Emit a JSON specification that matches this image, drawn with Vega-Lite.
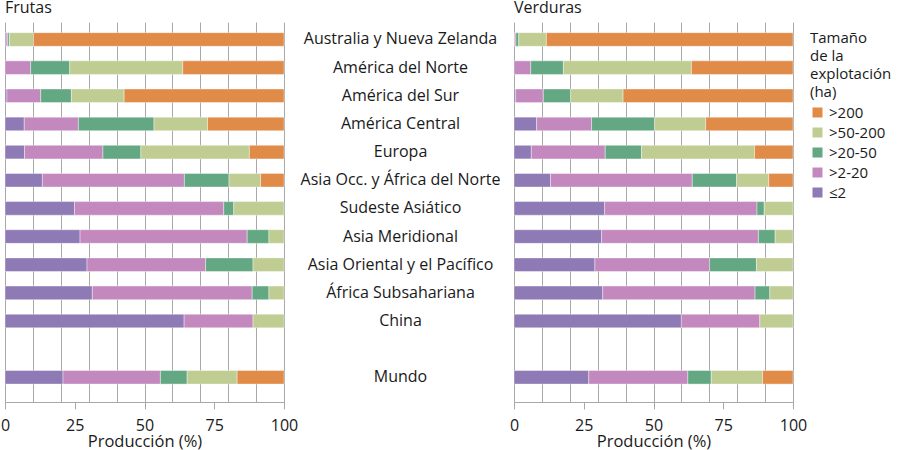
{
  "$schema": "https://vega.github.io/schema/vega-lite/v6.json",
  "padding": {"left": 0, "top": 0, "right": 0, "bottom": 0},
  "background": "white",
  "config": {
    "font": "Open Sans",
    "view": {"stroke": null},
    "title": {"fontSize": 16, "fontWeight": "normal", "anchor": "start", "frame": "group", "color": "#1a1a1a", "baseline": "alphabetic", "offset": 6},
    "axis": {"labelColor": "#1a1a1a", "titleColor": "#1a1a1a", "titleFontWeight": "normal"}
  },
  "data": {"values": [
    {"producto": "Frutas", "region": "Australia y Nueva Zelanda", "tamaño": "≤2", "valor": 0.4},
    {"producto": "Frutas", "region": "Australia y Nueva Zelanda", "tamaño": ">2-20", "valor": 0.6},
    {"producto": "Frutas", "region": "Australia y Nueva Zelanda", "tamaño": ">20-50", "valor": 0.6},
    {"producto": "Frutas", "region": "Australia y Nueva Zelanda", "tamaño": ">50-200", "valor": 8.6},
    {"producto": "Frutas", "region": "Australia y Nueva Zelanda", "tamaño": ">200", "valor": 89.8},
    {"producto": "Frutas", "region": "América del Norte", "tamaño": ">2-20", "valor": 9.2},
    {"producto": "Frutas", "region": "América del Norte", "tamaño": ">20-50", "valor": 14.0},
    {"producto": "Frutas", "region": "América del Norte", "tamaño": ">50-200", "valor": 40.5},
    {"producto": "Frutas", "region": "América del Norte", "tamaño": ">200", "valor": 36.3},
    {"producto": "Frutas", "region": "América del Sur", "tamaño": "≤2", "valor": 0.7},
    {"producto": "Frutas", "region": "América del Sur", "tamaño": ">2-20", "valor": 12.1},
    {"producto": "Frutas", "region": "América del Sur", "tamaño": ">20-50", "valor": 11.0},
    {"producto": "Frutas", "region": "América del Sur", "tamaño": ">50-200", "valor": 18.9},
    {"producto": "Frutas", "region": "América del Sur", "tamaño": ">200", "valor": 57.3},
    {"producto": "Frutas", "region": "América Central", "tamaño": "≤2", "valor": 6.9},
    {"producto": "Frutas", "region": "América Central", "tamaño": ">2-20", "valor": 19.4},
    {"producto": "Frutas", "region": "América Central", "tamaño": ">20-50", "valor": 27.1},
    {"producto": "Frutas", "region": "América Central", "tamaño": ">50-200", "valor": 19.2},
    {"producto": "Frutas", "region": "América Central", "tamaño": ">200", "valor": 27.4},
    {"producto": "Frutas", "region": "Europa", "tamaño": "≤2", "valor": 7.0},
    {"producto": "Frutas", "region": "Europa", "tamaño": ">2-20", "valor": 28.1},
    {"producto": "Frutas", "region": "Europa", "tamaño": ">20-50", "valor": 13.6},
    {"producto": "Frutas", "region": "Europa", "tamaño": ">50-200", "valor": 38.9},
    {"producto": "Frutas", "region": "Europa", "tamaño": ">200", "valor": 12.4},
    {"producto": "Frutas", "region": "Asia Occ. y África del Norte", "tamaño": "≤2", "valor": 13.4},
    {"producto": "Frutas", "region": "Asia Occ. y África del Norte", "tamaño": ">2-20", "valor": 50.9},
    {"producto": "Frutas", "region": "Asia Occ. y África del Norte", "tamaño": ">20-50", "valor": 16.0},
    {"producto": "Frutas", "region": "Asia Occ. y África del Norte", "tamaño": ">50-200", "valor": 11.3},
    {"producto": "Frutas", "region": "Asia Occ. y África del Norte", "tamaño": ">200", "valor": 8.4},
    {"producto": "Frutas", "region": "Sudeste Asiático", "tamaño": "≤2", "valor": 24.9},
    {"producto": "Frutas", "region": "Sudeste Asiático", "tamaño": ">2-20", "valor": 53.5},
    {"producto": "Frutas", "region": "Sudeste Asiático", "tamaño": ">20-50", "valor": 3.6},
    {"producto": "Frutas", "region": "Sudeste Asiático", "tamaño": ">50-200", "valor": 18.0},
    {"producto": "Frutas", "region": "Asia Meridional", "tamaño": "≤2", "valor": 26.9},
    {"producto": "Frutas", "region": "Asia Meridional", "tamaño": ">2-20", "valor": 59.9},
    {"producto": "Frutas", "region": "Asia Meridional", "tamaño": ">20-50", "valor": 7.8},
    {"producto": "Frutas", "region": "Asia Meridional", "tamaño": ">50-200", "valor": 5.4},
    {"producto": "Frutas", "region": "Asia Oriental y el Pacífico", "tamaño": "≤2", "valor": 29.4},
    {"producto": "Frutas", "region": "Asia Oriental y el Pacífico", "tamaño": ">2-20", "valor": 42.5},
    {"producto": "Frutas", "region": "Asia Oriental y el Pacífico", "tamaño": ">20-50", "valor": 17.0},
    {"producto": "Frutas", "region": "Asia Oriental y el Pacífico", "tamaño": ">50-200", "valor": 11.1},
    {"producto": "Frutas", "region": "África Subsahariana", "tamaño": "≤2", "valor": 31.3},
    {"producto": "Frutas", "region": "África Subsahariana", "tamaño": ">2-20", "valor": 57.3},
    {"producto": "Frutas", "region": "África Subsahariana", "tamaño": ">20-50", "valor": 6.0},
    {"producto": "Frutas", "region": "África Subsahariana", "tamaño": ">50-200", "valor": 5.4},
    {"producto": "Frutas", "region": "China", "tamaño": "≤2", "valor": 64.2},
    {"producto": "Frutas", "region": "China", "tamaño": ">2-20", "valor": 24.7},
    {"producto": "Frutas", "region": "China", "tamaño": ">50-200", "valor": 11.1},
    {"producto": "Frutas", "region": "Mundo", "tamaño": "≤2", "valor": 20.8},
    {"producto": "Frutas", "region": "Mundo", "tamaño": ">2-20", "valor": 34.9},
    {"producto": "Frutas", "region": "Mundo", "tamaño": ">20-50", "valor": 9.6},
    {"producto": "Frutas", "region": "Mundo", "tamaño": ">50-200", "valor": 17.9},
    {"producto": "Frutas", "region": "Mundo", "tamaño": ">200", "valor": 16.8},
    {"producto": "Verduras", "region": "Australia y Nueva Zelanda", "tamaño": "≤2", "valor": 0.2},
    {"producto": "Verduras", "region": "Australia y Nueva Zelanda", "tamaño": ">2-20", "valor": 0.5},
    {"producto": "Verduras", "region": "Australia y Nueva Zelanda", "tamaño": ">20-50", "valor": 1.0},
    {"producto": "Verduras", "region": "Australia y Nueva Zelanda", "tamaño": ">50-200", "valor": 9.9},
    {"producto": "Verduras", "region": "Australia y Nueva Zelanda", "tamaño": ">200", "valor": 88.4},
    {"producto": "Verduras", "region": "América del Norte", "tamaño": ">2-20", "valor": 6.0},
    {"producto": "Verduras", "region": "América del Norte", "tamaño": ">20-50", "valor": 11.7},
    {"producto": "Verduras", "region": "América del Norte", "tamaño": ">50-200", "valor": 45.9},
    {"producto": "Verduras", "region": "América del Norte", "tamaño": ">200", "valor": 36.4},
    {"producto": "Verduras", "region": "América del Sur", "tamaño": "≤2", "valor": 0.6},
    {"producto": "Verduras", "region": "América del Sur", "tamaño": ">2-20", "valor": 9.9},
    {"producto": "Verduras", "region": "América del Sur", "tamaño": ">20-50", "valor": 9.8},
    {"producto": "Verduras", "region": "América del Sur", "tamaño": ">50-200", "valor": 18.8},
    {"producto": "Verduras", "region": "América del Sur", "tamaño": ">200", "valor": 60.9},
    {"producto": "Verduras", "region": "América Central", "tamaño": "≤2", "valor": 8.1},
    {"producto": "Verduras", "region": "América Central", "tamaño": ">2-20", "valor": 19.7},
    {"producto": "Verduras", "region": "América Central", "tamaño": ">20-50", "valor": 22.6},
    {"producto": "Verduras", "region": "América Central", "tamaño": ">50-200", "valor": 18.3},
    {"producto": "Verduras", "region": "América Central", "tamaño": ">200", "valor": 31.3},
    {"producto": "Verduras", "region": "Europa", "tamaño": "≤2", "valor": 6.2},
    {"producto": "Verduras", "region": "Europa", "tamaño": ">2-20", "valor": 26.5},
    {"producto": "Verduras", "region": "Europa", "tamaño": ">20-50", "valor": 13.0},
    {"producto": "Verduras", "region": "Europa", "tamaño": ">50-200", "valor": 40.5},
    {"producto": "Verduras", "region": "Europa", "tamaño": ">200", "valor": 13.8},
    {"producto": "Verduras", "region": "Asia Occ. y África del Norte", "tamaño": "≤2", "valor": 13.1},
    {"producto": "Verduras", "region": "Asia Occ. y África del Norte", "tamaño": ">2-20", "valor": 50.8},
    {"producto": "Verduras", "region": "Asia Occ. y África del Norte", "tamaño": ">20-50", "valor": 15.9},
    {"producto": "Verduras", "region": "Asia Occ. y África del Norte", "tamaño": ">50-200", "valor": 11.5},
    {"producto": "Verduras", "region": "Asia Occ. y África del Norte", "tamaño": ">200", "valor": 8.7},
    {"producto": "Verduras", "region": "Sudeste Asiático", "tamaño": "≤2", "valor": 32.5},
    {"producto": "Verduras", "region": "Sudeste Asiático", "tamaño": ">2-20", "valor": 54.6},
    {"producto": "Verduras", "region": "Sudeste Asiático", "tamaño": ">20-50", "valor": 2.6},
    {"producto": "Verduras", "region": "Sudeste Asiático", "tamaño": ">50-200", "valor": 10.3},
    {"producto": "Verduras", "region": "Asia Meridional", "tamaño": "≤2", "valor": 31.4},
    {"producto": "Verduras", "region": "Asia Meridional", "tamaño": ">2-20", "valor": 56.2},
    {"producto": "Verduras", "region": "Asia Meridional", "tamaño": ">20-50", "valor": 6.0},
    {"producto": "Verduras", "region": "Asia Meridional", "tamaño": ">50-200", "valor": 6.4},
    {"producto": "Verduras", "region": "Asia Oriental y el Pacífico", "tamaño": "≤2", "valor": 29.0},
    {"producto": "Verduras", "region": "Asia Oriental y el Pacífico", "tamaño": ">2-20", "valor": 41.1},
    {"producto": "Verduras", "region": "Asia Oriental y el Pacífico", "tamaño": ">20-50", "valor": 16.8},
    {"producto": "Verduras", "region": "Asia Oriental y el Pacífico", "tamaño": ">50-200", "valor": 13.1},
    {"producto": "Verduras", "region": "África Subsahariana", "tamaño": "≤2", "valor": 31.8},
    {"producto": "Verduras", "region": "África Subsahariana", "tamaño": ">2-20", "valor": 54.6},
    {"producto": "Verduras", "region": "África Subsahariana", "tamaño": ">20-50", "valor": 5.3},
    {"producto": "Verduras", "region": "África Subsahariana", "tamaño": ">50-200", "valor": 8.3},
    {"producto": "Verduras", "region": "China", "tamaño": "≤2", "valor": 60.0},
    {"producto": "Verduras", "region": "China", "tamaño": ">2-20", "valor": 28.1},
    {"producto": "Verduras", "region": "China", "tamaño": ">50-200", "valor": 11.9},
    {"producto": "Verduras", "region": "Mundo", "tamaño": "≤2", "valor": 26.8},
    {"producto": "Verduras", "region": "Mundo", "tamaño": ">2-20", "valor": 35.5},
    {"producto": "Verduras", "region": "Mundo", "tamaño": ">20-50", "valor": 8.4},
    {"producto": "Verduras", "region": "Mundo", "tamaño": ">50-200", "valor": 18.4},
    {"producto": "Verduras", "region": "Mundo", "tamaño": ">200", "valor": 10.9}
  ]},
  "transform": [{"calculate": "indexof(['≤2','>2-20','>20-50','>50-200','>200'], datum['tamaño'])", "as": "orden"}],
  "spacing": 230,
  "bounds": "flush",
  "resolve": {"scale": {"color": "shared"}},
  "hconcat": [
    {
      "title": {"text": "Frutas"},
      "width": 279,
      "height": 380,
      "transform": [{"filter": "datum.producto === 'Frutas'"}],
      "mark": {"type": "bar", "stroke": "white", "strokeWidth": 0.4},
      "encoding": {
        "y": {
          "field": "region", "type": "nominal",
          "scale": {"domain": ["Australia y Nueva Zelanda", "América del Norte", "América del Sur", "América Central", "Europa", "Asia Occ. y África del Norte", "Sudeste Asiático", "Asia Meridional", "Asia Oriental y el Pacífico", "África Subsahariana", "China", " ", "Mundo"], "paddingInner": 0.517, "paddingOuter": 0.508, "align": 0.374},
          "axis": null
        },
        "x": {
          "field": "valor", "type": "quantitative", "stack": "zero",
          "scale": {"domain": [0, 100], "nice": false},
          "axis": {
            "title": "Producción (%)", "titleFontSize": 16.5, "labelFontSize": 16,
            "values": [0, 10, 20, 25, 30, 40, 50, 60, 70, 75, 80, 90, 100],
            "labelExpr": "datum.value % 25 === 0 ? datum.label : ''",
            "grid": true, "gridColor": "#a8a8a8", "gridWidth": 1,
            "gridOpacity": {"condition": {"test": "datum.value % 10 === 0", "value": 1}, "value": 0},
            "tickOpacity": {"condition": {"test": "datum.value % 25 === 0", "value": 1}, "value": 0},
            "tickColor": "#a8a8a8", "domainColor": "#a8a8a8", "tickSize": 7,
            "labelPadding": 8, "titlePadding": 0, "labelFlush": false
          }
        },
        "order": {"field": "orden", "type": "quantitative", "sort": "ascending"},
        "color": {
          "field": "tamaño", "type": "nominal",
          "scale": {"domain": ["≤2", ">2-20", ">20-50", ">50-200", ">200"], "range": ["#8e7ab5", "#c388be", "#63a882", "#bfcc92", "#e08b47"]},
          "legend": {
            "title": ["Tamaño", "de la", "explotación", "(ha)"],
            "values": [">200", ">50-200", ">20-50", ">2-20", "≤2"],
            "symbolType": "square", "symbolSize": 100, "symbolStrokeWidth": 0,
            "titleFontSize": 15, "titleFontWeight": "normal", "titleLineHeight": 18,
            "labelFontSize": 15, "rowPadding": 4, "titleColor": "#1a1a1a", "labelColor": "#1a1a1a",
            "offset": -6, "padding": 9
          }
        }
      }
    },
    {
      "title": {"text": "Verduras"},
      "width": 279,
      "height": 380,
      "transform": [{"filter": "datum.producto === 'Verduras'"}],
      "mark": {"type": "bar", "stroke": "white", "strokeWidth": 0.4},
      "encoding": {
        "y": {
          "field": "region", "type": "nominal",
          "scale": {"domain": ["Australia y Nueva Zelanda", "América del Norte", "América del Sur", "América Central", "Europa", "Asia Occ. y África del Norte", "Sudeste Asiático", "Asia Meridional", "Asia Oriental y el Pacífico", "África Subsahariana", "China", " ", "Mundo"], "paddingInner": 0.517, "paddingOuter": 0.508, "align": 0.374},
          "axis": {"title": null, "ticks": false, "tickSize": 0, "domain": false, "grid": false, "labelAlign": "center", "labelPadding": 114, "labelFontSize": 16, "labelLimit": 0}
        },
        "x": {
          "field": "valor", "type": "quantitative", "stack": "zero",
          "scale": {"domain": [0, 100], "nice": false},
          "axis": {
            "title": "Producción (%)", "titleFontSize": 16.5, "labelFontSize": 16,
            "values": [0, 10, 20, 25, 30, 40, 50, 60, 70, 75, 80, 90, 100],
            "labelExpr": "datum.value % 25 === 0 ? datum.label : ''",
            "grid": true, "gridColor": "#a8a8a8", "gridWidth": 1,
            "gridOpacity": {"condition": {"test": "datum.value % 10 === 0", "value": 1}, "value": 0},
            "tickOpacity": {"condition": {"test": "datum.value % 25 === 0", "value": 1}, "value": 0},
            "tickColor": "#a8a8a8", "domainColor": "#a8a8a8", "tickSize": 7,
            "labelPadding": 8, "titlePadding": 0, "labelFlush": false
          }
        },
        "order": {"field": "orden", "type": "quantitative", "sort": "ascending"},
        "color": {
          "field": "tamaño", "type": "nominal",
          "scale": {"domain": ["≤2", ">2-20", ">20-50", ">50-200", ">200"], "range": ["#8e7ab5", "#c388be", "#63a882", "#bfcc92", "#e08b47"]}
        }
      }
    }
  ]
}
